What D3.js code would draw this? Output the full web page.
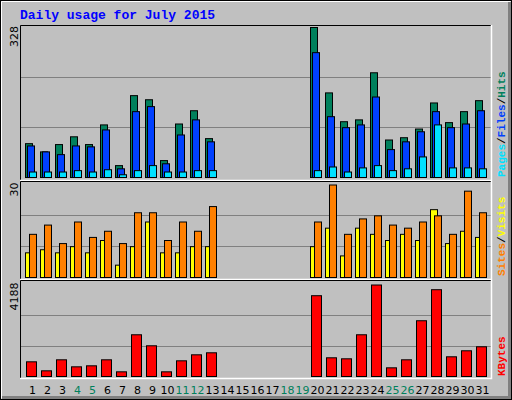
<!DOCTYPE html><html><head><script src="https://cdn.jsdelivr.net/npm/d3@7"></script>
<style>body{margin:0;background:#fff}</style></head><body><svg id="c" width="512" height="400"></svg>
<script>
const days=[1,2,3,4,5,6,7,8,9,10,11,12,13,14,15,16,17,18,19,20,21,22,23,24,25,26,27,28,29,30,31];
const weekend=[4,5,11,12,18,19,25,26];
const hits =[74,56,72,89,72,115,26,179,170,37,117,146,85,0,0,0,0,0,0,328,185,122,126,229,82,87,106,163,120,144,168];
const files=[69,56,50,69,67,104,19,144,155,30,93,126,78,0,0,0,0,0,0,273,133,109,115,176,61,78,100,144,109,117,146];
const pages=[12,12,12,15,12,17,6,15,26,12,12,15,15,0,0,0,0,0,0,15,23,12,21,26,15,19,45,115,21,21,19];
const visits=[8,9,8,10,8,12,4,10,18,8,8,10,10,0,0,0,0,0,0,10,16,7,16,14,12,14,12,22,11,15,13];
const sites=[14,17,11,18,13,15,11,21,21,12,18,15,23,0,0,0,0,0,0,18,30,14,19,20,17,16,18,20,14,28,21];
const kbytes=[672,260,764,443,489,764,214,1910,1406,214,718,993,1085,0,0,0,0,0,0,3698,856,810,1910,4188,397,764,2552,3973,902,1177,1360];
const maxTop=328,maxMid=30,maxBot=4188;

const svg=d3.select("#c");
svg.append("rect").attr("width",512).attr("height",400).attr("fill","#C0C0C0");
svg.append("rect").attr("x",0.5).attr("y",0.5).attr("width",511).attr("height",399).attr("fill","none").attr("stroke","#000");
svg.append("path").attr("d","M1.5,398.5V1.5H510.5").attr("fill","none").attr("stroke","#fff");
svg.append("path").attr("d","M2,397.5H509.5V2").attr("fill","none").attr("stroke","#808080").attr("stroke-width",3);
svg.append("text").attr("x",20).attr("y",19).text("Daily usage for July 2015").attr("fill","#0000FF")
 .attr("font-family","Liberation Mono, DejaVu Sans Mono, monospace").attr("font-weight","bold").attr("font-size",13);

const x=d3.scaleLinear().domain([1,31]).range([25,475]);
const yT=d3.scaleLinear().domain([0,maxTop]).range([177,27]);
const yM=d3.scaleLinear().domain([0,maxMid]).range([277,184.5]);
const yB=d3.scaleLinear().domain([0,maxBot]).range([376,284.5]);

function panel(y0,y1,scale,max){
  svg.append("rect").attr("x",20).attr("y",y0).attr("width",471).attr("height",y1-y0).attr("fill","#C0C0C0");
  [max/3,2*max/3].forEach(v=>svg.append("line").attr("x1",20).attr("x2",491).attr("y1",Math.round(scale(v))+0.5).attr("y2",Math.round(scale(v))+0.5).attr("stroke","#808080"));
  svg.append("path").attr("d",`M20.5,${y1}V${y0+0.5}H491`).attr("fill","none").attr("stroke","#000");
  svg.append("path").attr("d",`M20,${y1-0.5}H491.5V${y0}`).attr("fill","none").attr("stroke","#fff").attr("stroke-width",1.5);
}
panel(25,181,yT,maxTop);panel(181,280,yM,maxMid);panel(280,379,yB,maxBot);

function bars(data,scale,off,w,color){
  svg.append("g").selectAll("rect").data(days.filter((d,i)=>data[i]>0)).join("rect")
   .attr("x",d=>x(d)+off+0.5).attr("width",w).attr("y",d=>scale(data[d-1])+0.5)
   .attr("height",d=>scale(0)-scale(data[d-1])).attr("fill",color).attr("stroke","#000");
}
bars(hits,yT,0,7,"#00805C");bars(files,yT,2,7,"#0040FF");bars(pages,yT,4,7,"#00E0FF");
bars(visits,yM,0,7,"#FFFF00");bars(sites,yM,4,7,"#FF8000");
bars(kbytes,yB,1,10,"#FF0000");

svg.append("g").selectAll("text").data(days).join("text").attr("x",d=>x(d)+7.5).attr("y",394)
 .attr("text-anchor","middle").attr("font-family","DejaVu Sans, sans-serif").attr("font-size",11)
 .attr("fill",d=>weekend.includes(d)?"#00805C":"#000").text(d=>d);

function vlabel(xp,yp,txt,anchor){
  svg.append("text").attr("transform",`translate(${xp},${yp}) rotate(-90)`).attr("text-anchor",anchor)
   .attr("font-family","DejaVu Sans, sans-serif").attr("font-size",11).attr("fill","#000").text(txt);
}
vlabel(18,yT(maxTop)-1,maxTop,"end");vlabel(18,yM(maxMid)-2,maxMid,"end");vlabel(18,yB(maxBot)-2,maxBot,"end");

function rlabel(yp,parts){
  const t=svg.append("text").attr("transform",`translate(505,${yp}) rotate(-90)`).attr("text-anchor","start")
   .attr("font-family","Liberation Mono, DejaVu Sans Mono, monospace").attr("font-weight","bold").attr("font-size",11);
  parts.forEach(p=>t.append("tspan").attr("fill",p[1]).text(p[0]));
}
rlabel(177,[["Pages","#00E0FF"],["/","#000"],["Files","#0040FF"],["/","#000"],["Hits","#00805C"]]);
rlabel(276,[["Sites","#FF8000"],["/","#000"],["Visits","#FFFF00"]]);
rlabel(376,[["KBytes","#FF0000"]]);
</script></body></html>
